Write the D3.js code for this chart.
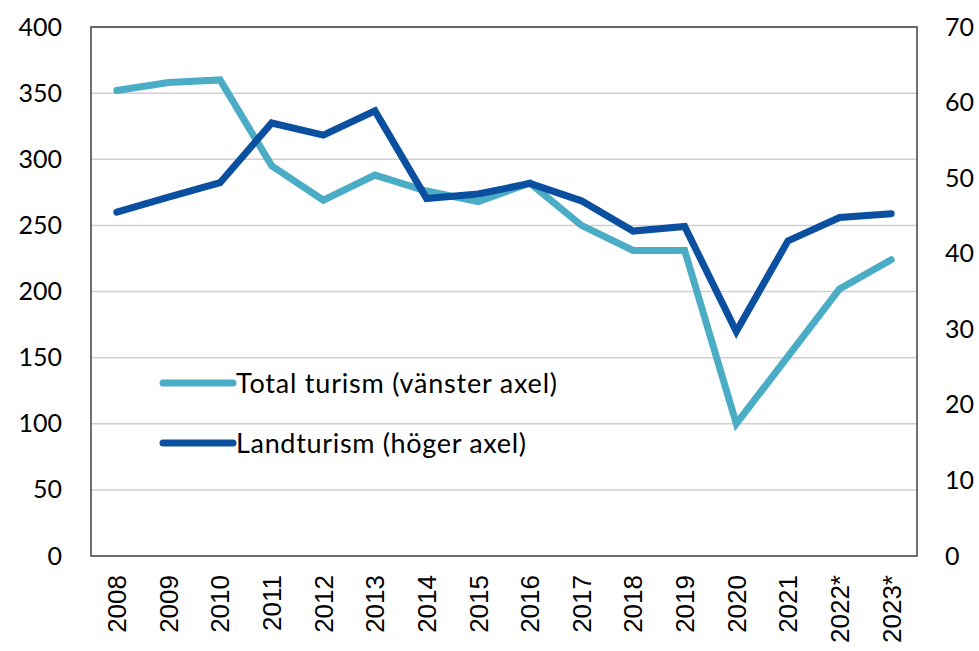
<!DOCTYPE html>
<html>
<head>
<meta charset="utf-8">
<script src="https://cdn.jsdelivr.net/npm/d3@7"></script>
<style>
  body { margin: 0; background: #fff; }
  .axis path, .axis line { display: none; }
  .axis text { fill: #000; }
</style>
</head>
<body>
<script>
const years = ['2008', '2009', '2010', '2011', '2012', '2013', '2014', '2015', '2016', '2017', '2018', '2019', '2020', '2021', '2022*', '2023*']
const totalTurism = [352, 358, 360, 295, 269, 288, 276, 268, 282, 250, 231, 231, 100, 151, 202, 224]
const landTurism = [45.5, 47.5, 49.4, 57.3, 55.7, 58.9, 47.3, 47.9, 49.3, 47.0, 43.0, 43.6, 29.7, 41.7, 44.8, 45.3]
const leftTicks = [0, 50, 100, 150, 200, 250, 300, 350, 400]
const rightTicks = [0, 10, 20, 30, 40, 50, 60, 70]
const seriesNames = ['Total turism (vänster axel)', 'Landturism (höger axel)']
const colors = ['#4bacc6', '#0a4fa0']

const svg = d3.select('body').append('svg')
  .attr('width', 979)
  .attr('height', 651)

const margin = {top: 27, right: 62, bottom: 95, left: 91}
const width = 979 - margin.left - margin.right
const height = 651 - margin.top - margin.bottom

const x = d3.scaleBand().domain(years).range([0, width])
const yL = d3.scaleLinear().domain([0, 400]).range([height, 0])
const yR = d3.scaleLinear().domain([0, 70]).range([height, 0])

const g = svg.append('g').attr('transform', `translate(${margin.left},${margin.top})`)

// gridlines
g.selectAll('.grid')
  .data(leftTicks.slice(1))
  .enter()
  .append('line')
  .attr('x1', 0)
  .attr('x2', width)
  .attr('y1', d => yL(d))
  .attr('y2', d => yL(d))
  .attr('stroke', '#d0d0d0')
  .attr('stroke-width', 1.5)

// frame
g.append('rect')
  .attr('width', width)
  .attr('height', height)
  .attr('fill', 'none')
  .attr('stroke', '#404040')
  .attr('stroke-width', 1.5)

g.append('g')
  .attr('class', 'axis')
  .call(d3.axisLeft(yL).tickValues(leftTicks).tickSize(0).tickPadding(29))
  .selectAll('text')
  .style('font-family', 'Lato, "Open Sans", sans-serif')
  .style('font-size', '25px')

g.append('g')
  .attr('class', 'axis')
  .attr('transform', `translate(${width},0)`)
  .call(d3.axisRight(yR).tickValues(rightTicks).tickSize(0).tickPadding(28))
  .selectAll('text')
  .style('font-family', 'Lato, "Open Sans", sans-serif')
  .style('font-size', '25px')

g.append('g')
  .attr('class', 'axis')
  .attr('transform', `translate(0,${height})`)
  .call(d3.axisBottom(x).tickSize(0))
  .selectAll('text')
  .attr('transform', 'rotate(-90)')
  .attr('text-anchor', 'end')
  .attr('x', -19)
  .attr('y', 0)
  .attr('dy', '0.36em')
  .style('font-family', '"Liberation Sans", Arial, sans-serif')
  .style('font-size', '26px')

const cx = d => x(d) + x.bandwidth() / 2

const lineL = d3.line().x((d, i) => cx(years[i])).y(d => yL(d))
const lineR = d3.line().x((d, i) => cx(years[i])).y(d => yR(d))

g.append('path')
  .datum(totalTurism)
  .attr('d', lineL)
  .attr('fill', 'none')
  .attr('stroke', colors[0])
  .attr('stroke-width', 7)
  .attr('stroke-linecap', 'round')

g.append('path')
  .datum(landTurism)
  .attr('d', lineR)
  .attr('fill', 'none')
  .attr('stroke', colors[1])
  .attr('stroke-width', 7)
  .attr('stroke-linecap', 'round')

// legend
const legendWidths = [321, 290]
const legend = svg.append('g')
  .selectAll('g')
  .data(seriesNames)
  .enter()
  .append('g')
  .attr('transform', (d, i) => `translate(163,${383 + i * 60})`)

legend.append('line')
  .attr('x1', 0)
  .attr('x2', 70)
  .attr('stroke', (d, i) => colors[i])
  .attr('stroke-width', 7)
  .attr('stroke-linecap', 'round')

legend.append('text')
  .attr('x', 73)
  .attr('dy', '0.36em')
  .attr('textLength', (d, i) => legendWidths[i])
  .attr('lengthAdjust', 'spacing')
  .style('font-family', 'Lato, "Open Sans", sans-serif')
  .style('font-size', '27px')
  .text(d => d)
</script>
</body>
</html>
